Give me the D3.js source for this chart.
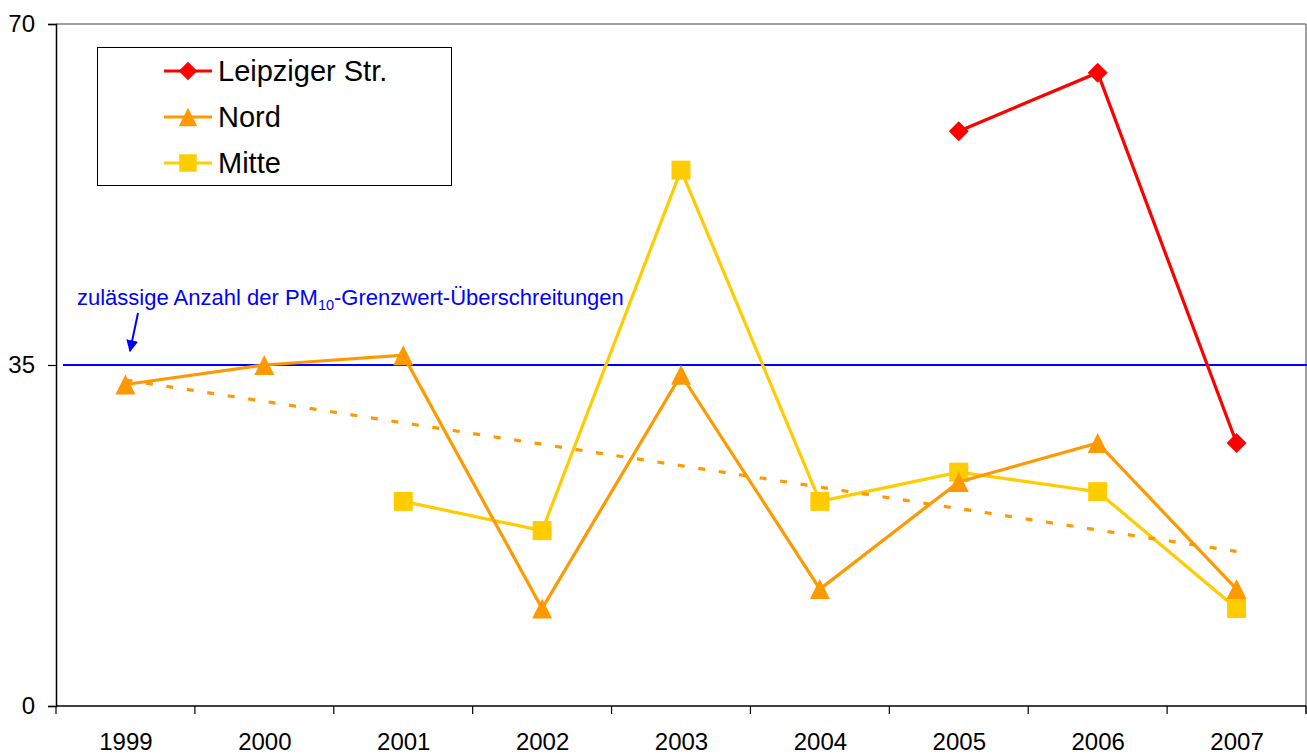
<!DOCTYPE html>
<html>
<head>
<meta charset="utf-8">
<script src="https://cdn.jsdelivr.net/npm/d3@7"></script>
<style>
  body { margin: 0; background: #fff; }
  svg { display: block; font-family: Arial, "Liberation Sans", sans-serif; }
</style>
</head>
<body>
<div id="viz"></div>
<script>
const years = ["1999", "2000", "2001", "2002", "2003", "2004", "2005", "2006", "2007"];
const leipziger = [null, null, null, null, null, null, 59, 65, 27];
const nord = [33, 35, 36, 10, 34, 12, 23, 27, 12];
const mitte = [null, null, 21, 18, 55, 21, 24, 22, 10];
const yTicks = [0, 35, 70];
const limit = 35;
const limitLabel = "zulässige Anzahl der PM";

const width = 1307;
const height = 754;

const svg = d3.select("#viz")
  .append("svg")
  .attr("width", width)
  .attr("height", height)
  .style("background-color", "white");

const x = d3.scalePoint()
  .domain(years)
  .range([56, 1306])
  .padding(0.5);

const y = d3.scaleLinear()
  .domain([0, 70])
  .range([706, 24]);

const step = x.step();

// plot frame (top + right, grey)
svg.append("line")
  .attr("x1", 56).attr("x2", 1306)
  .attr("y1", y(70)).attr("y2", y(70))
  .attr("stroke", "#808080").attr("stroke-width", 1.5);
svg.append("line")
  .attr("x1", 1306).attr("x2", 1306)
  .attr("y1", y(70)).attr("y2", 714)
  .attr("stroke", "#808080").attr("stroke-width", 1.5);

// y axis
const yAxis = svg.append("g")
  .attr("transform", "translate(56,0)")
  .call(d3.axisLeft(y).tickValues(yTicks).tickSize(8).tickPadding(13));
yAxis.select(".domain").attr("stroke", "#000").attr("stroke-width", 1.5);
yAxis.selectAll(".tick line").attr("stroke", "#000").attr("stroke-width", 1.2);
yAxis.selectAll(".tick text")
  .attr("font-size", 24)
  .attr("font-family", "Arial, 'Liberation Sans', sans-serif")
  .attr("fill", "#000");

// x axis: labels at centers, ticks at band boundaries
const xAxis = svg.append("g")
  .attr("transform", `translate(0,${y(0)})`)
  .call(d3.axisBottom(x).tickSize(0).tickPadding(44));
xAxis.select(".domain").remove();
xAxis.selectAll(".tick text")
  .attr("font-size", 24)
  .attr("font-family", "Arial, 'Liberation Sans', sans-serif")
  .attr("fill", "#000")
  .attr("dy", 0);

svg.append("line")
  .attr("x1", 56).attr("x2", 1306)
  .attr("y1", y(0)).attr("y2", y(0))
  .attr("stroke", "#000").attr("stroke-width", 1.5);

svg.selectAll(".xtick")
  .data(d3.range(years.length + 1))
  .enter()
  .append("line")
  .attr("class", "xtick")
  .attr("x1", i => x(years[0]) - step / 2 + i * step)
  .attr("x2", i => x(years[0]) - step / 2 + i * step)
  .attr("y1", y(0))
  .attr("y2", y(0) + 8)
  .attr("stroke", "#000")
  .attr("stroke-width", 1.2);

// limit line
svg.append("line")
  .attr("x1", 63).attr("x2", 1307)
  .attr("y1", y(limit)).attr("y2", y(limit))
  .attr("stroke", "#0000ff").attr("stroke-width", 2.2);

const note = svg.append("text")
  .attr("x", 77)
  .attr("y", 305)
  .attr("font-size", 22)
  .attr("fill", "#0000ff");
note.append("tspan").text(limitLabel);
note.append("tspan").attr("font-size", 14.5).attr("dy", 5).text("10");
note.append("tspan").attr("dy", -5).text("-Grenzwert-Überschreitungen");

svg.append("defs").append("marker")
  .attr("id", "arrow")
  .attr("viewBox", "0 0 10 10")
  .attr("refX", 9).attr("refY", 5)
  .attr("markerWidth", 6).attr("markerHeight", 6)
  .attr("orient", "auto")
  .append("path")
  .attr("d", "M0,0 L10,5 L0,10 Z")
  .attr("fill", "#0000ff");

svg.append("line")
  .attr("x1", 138).attr("y1", 313)
  .attr("x2", 130).attr("y2", 351)
  .attr("stroke", "#0000ff")
  .attr("stroke-width", 2)
  .attr("marker-end", "url(#arrow)");

// marker shapes
const triangleShape = {
  draw(ctx, size) {
    const w = Math.sqrt(size);
    ctx.moveTo(0, -w * 0.5);
    ctx.lineTo(w / 2, w * 0.5);
    ctx.lineTo(-w / 2, w * 0.5);
    ctx.closePath();
  }
};
const diamondShape = {
  draw(ctx, size) {
    const r = Math.sqrt(size) / 2;
    ctx.moveTo(0, -r);
    ctx.lineTo(r, 0);
    ctx.lineTo(0, r);
    ctx.lineTo(-r, 0);
    ctx.closePath();
  }
};

const series = [
  { name: "Leipziger Str.", values: leipziger, color: "#ff0000", shape: diamondShape, size: 20 * 20 },
  { name: "Nord", values: nord, color: "#ff9900", shape: triangleShape, size: 20 * 20 },
  { name: "Mitte", values: mitte, color: "#ffcc00", shape: d3.symbolSquare, size: 19 * 19 }
];

const line = d3.line()
  .defined(d => d.v != null)
  .x(d => x(d.year))
  .y(d => y(d.v));

// draw in reverse so Leipziger is on top
series.slice().reverse().forEach(s => {
  const pts = years.map((year, i) => ({ year: year, v: s.values[i] }));
  svg.append("path")
    .datum(pts)
    .attr("d", line)
    .attr("fill", "none")
    .attr("stroke", s.color)
    .attr("stroke-width", 3.2);

  svg.selectAll(null)
    .data(pts.filter(d => d.v != null))
    .enter()
    .append("path")
    .attr("d", d3.symbol().type(s.shape).size(s.size))
    .attr("transform", d => `translate(${x(d.year)},${y(d.v)})`)
    .attr("fill", s.color);
});

// linear trend for Nord
const idx = d3.range(nord.length);
const mx = d3.mean(idx);
const my = d3.mean(nord);
const slope = d3.sum(idx, i => (i - mx) * (nord[i] - my)) / d3.sum(idx, i => (i - mx) * (i - mx));
const icpt = my - slope * mx;
svg.append("line")
  .attr("x1", x(years[0])).attr("y1", y(icpt))
  .attr("x2", x(years[years.length - 1])).attr("y2", y(icpt + slope * (years.length - 1)))
  .attr("stroke", "#ff9900")
  .attr("stroke-width", 3.2)
  .attr("stroke-dasharray", "7,13.7");

// legend
const legend = svg.append("g");
legend.append("rect")
  .attr("x", 97.5).attr("y", 47.5)
  .attr("width", 354).attr("height", 138)
  .attr("fill", "white")
  .attr("stroke", "#000")
  .attr("stroke-width", 1);

const rowY = [71, 117, 163];
series.forEach((s, i) => {
  const g = legend.append("g").attr("transform", `translate(0,${rowY[i]})`);
  g.append("line")
    .attr("x1", 164).attr("x2", 212)
    .attr("stroke", s.color).attr("stroke-width", 3.2);
  g.append("path")
    .attr("d", d3.symbol().type(s.shape).size(s.size * 0.85))
    .attr("transform", "translate(188,0)")
    .attr("fill", s.color);
  g.append("text")
    .attr("x", 218)
    .attr("y", 10)
    .attr("font-size", 29)
    .attr("fill", "#000")
    .text(s.name);
});
</script>
</body>
</html>
